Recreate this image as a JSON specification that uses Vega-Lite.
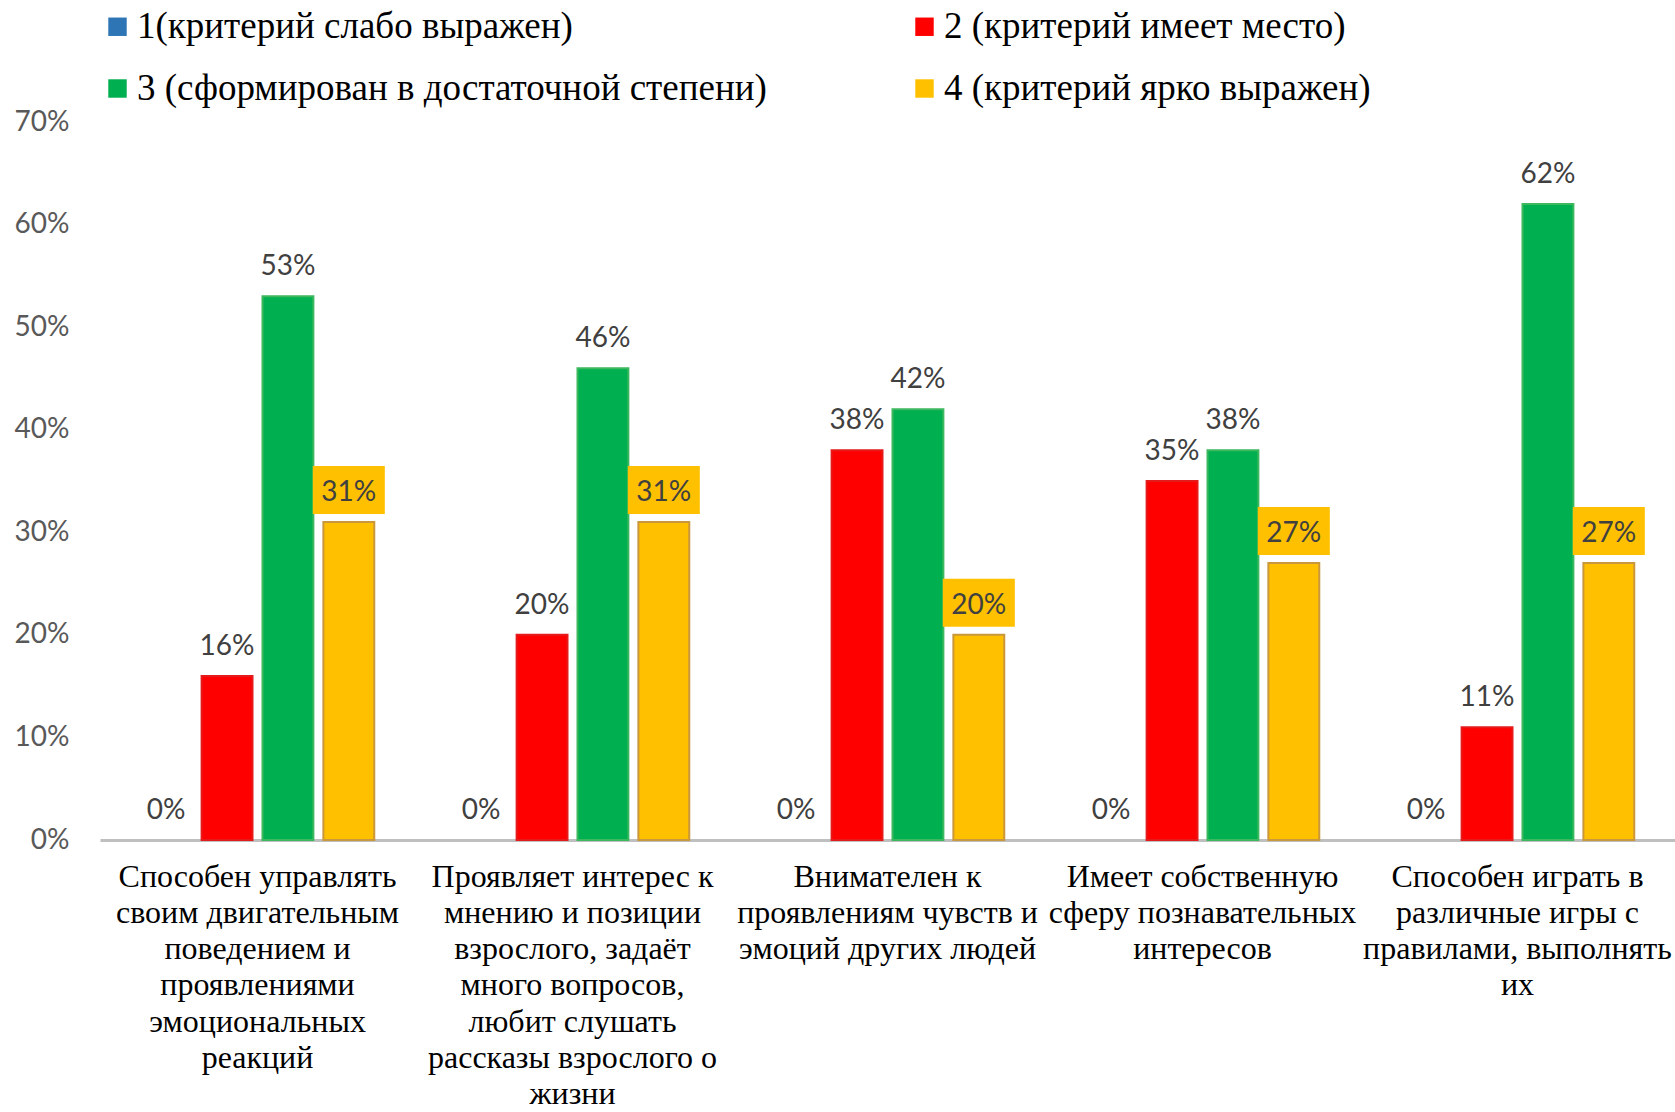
{
  "$schema": "https://vega.github.io/schema/vega-lite/v6.json",
  "width": 1575,
  "height": 718,
  "autosize": {"type": "none"},
  "padding": {"left": 100, "top": 122, "right": 0, "bottom": 272},
  "background": "white",
  "config": {"view": {"stroke": null}},
  "data": {
    "values": [
      {"c": "Способен управлять\nсвоим двигательным\nповедением и\nпроявлениями\nэмоциональных\nреакций", "s": "1(критерий слабо выражен)", "v": 0},
      {"c": "Способен управлять\nсвоим двигательным\nповедением и\nпроявлениями\nэмоциональных\nреакций", "s": "2 (критерий имеет место)", "v": 0.16},
      {"c": "Способен управлять\nсвоим двигательным\nповедением и\nпроявлениями\nэмоциональных\nреакций", "s": "3 (сформирован в достаточной степени)", "v": 0.53},
      {"c": "Способен управлять\nсвоим двигательным\nповедением и\nпроявлениями\nэмоциональных\nреакций", "s": "4 (критерий ярко выражен)", "v": 0.31},
      {"c": "Проявляет интерес к\nмнению и позиции\nвзрослого, задаёт\nмного вопросов,\nлюбит слушать\nрассказы взрослого о\nжизни", "s": "1(критерий слабо выражен)", "v": 0},
      {"c": "Проявляет интерес к\nмнению и позиции\nвзрослого, задаёт\nмного вопросов,\nлюбит слушать\nрассказы взрослого о\nжизни", "s": "2 (критерий имеет место)", "v": 0.20},
      {"c": "Проявляет интерес к\nмнению и позиции\nвзрослого, задаёт\nмного вопросов,\nлюбит слушать\nрассказы взрослого о\nжизни", "s": "3 (сформирован в достаточной степени)", "v": 0.46},
      {"c": "Проявляет интерес к\nмнению и позиции\nвзрослого, задаёт\nмного вопросов,\nлюбит слушать\nрассказы взрослого о\nжизни", "s": "4 (критерий ярко выражен)", "v": 0.31},
      {"c": "Внимателен к\nпроявлениям чувств и\nэмоций других людей", "s": "1(критерий слабо выражен)", "v": 0},
      {"c": "Внимателен к\nпроявлениям чувств и\nэмоций других людей", "s": "2 (критерий имеет место)", "v": 0.38},
      {"c": "Внимателен к\nпроявлениям чувств и\nэмоций других людей", "s": "3 (сформирован в достаточной степени)", "v": 0.42},
      {"c": "Внимателен к\nпроявлениям чувств и\nэмоций других людей", "s": "4 (критерий ярко выражен)", "v": 0.20},
      {"c": "Имеет собственную\nсферу познавательных\nинтересов", "s": "1(критерий слабо выражен)", "v": 0},
      {"c": "Имеет собственную\nсферу познавательных\nинтересов", "s": "2 (критерий имеет место)", "v": 0.35},
      {"c": "Имеет собственную\nсферу познавательных\nинтересов", "s": "3 (сформирован в достаточной степени)", "v": 0.38},
      {"c": "Имеет собственную\nсферу познавательных\nинтересов", "s": "4 (критерий ярко выражен)", "v": 0.27},
      {"c": "Способен играть в\nразличные игры с\nправилами, выполнять\nих", "s": "1(критерий слабо выражен)", "v": 0},
      {"c": "Способен играть в\nразличные игры с\nправилами, выполнять\nих", "s": "2 (критерий имеет место)", "v": 0.11},
      {"c": "Способен играть в\nразличные игры с\nправилами, выполнять\nих", "s": "3 (сформирован в достаточной степени)", "v": 0.62},
      {"c": "Способен играть в\nразличные игры с\nправилами, выполнять\nих", "s": "4 (критерий ярко выражен)", "v": 0.27}
    ]
  },
  "encoding": {
    "x": {
      "field": "c", "type": "nominal", "sort": null,
      "scale": {"paddingInner": 0, "paddingOuter": 0},
      "axis": {
        "title": null, "labelAngle": 0, "ticks": false,
        "domainColor": "#BFBFBF", "domainWidth": 3,
        "labelExpr": "split(datum.value, '\\n')",
        "labelFont": "Liberation Serif", "labelFontSize": 32, "labelColor": "#000000",
        "labelLineHeight": 36.3, "labelPadding": 21, "labelLimit": 0, "labelBaseline": "top"
      }
    },
    "xOffset": {
      "field": "s", "type": "nominal",
      "scale": {"paddingInner": 0.164, "paddingOuter": 0.669}
    },
    "y": {
      "field": "v", "type": "quantitative",
      "scale": {"domain": [0, 0.7], "nice": false},
      "axis": {
        "title": null, "values": [0, 0.1, 0.2, 0.3, 0.4, 0.5, 0.6, 0.7], "format": ".0%",
        "domain": false, "ticks": false, "grid": false,
        "labelFont": "Lato", "labelFontSize": 28, "labelColor": "#595959", "labelPadding": 31
      }
    }
  },
  "layer": [
    {
      "mark": {"type": "bar", "strokeWidth": 2},
      "encoding": {
        "color": {
          "field": "s", "type": "nominal",
          "scale": {
            "domain": ["1(критерий слабо выражен)", "2 (критерий имеет место)", "3 (сформирован в достаточной степени)", "4 (критерий ярко выражен)"],
            "range": ["#2E75B6", "#FF0000", "#00B050", "#FFC000"]
          },
          "legend": {
            "title": null, "orient": "none", "legendX": -1, "legendY": -114,
            "direction": "horizontal", "columns": 2, "columnPadding": 139, "rowPadding": 24,
            "symbolType": "square", "symbolSize": 340, "symbolStrokeWidth": 0,
            "labelFont": "Liberation Serif", "labelFontSize": 37, "labelColor": "#000000",
            "labelOffset": 1, "labelLimit": 0,
            "encode": {
              "symbols": {
                "update": {
                  "fill": {"signal": "datum.value[0] == '1' ? '#2E75B6' : datum.value[0] == '2' ? '#E42222' : datum.value[0] == '3' ? '#4CB050' : '#C9A24A'"}
                }
              }
            }
          }
        },
        "stroke": {
          "field": "s", "type": "nominal",
          "scale": {
            "domain": ["1(критерий слабо выражен)", "2 (критерий имеет место)", "3 (сформирован в достаточной степени)", "4 (критерий ярко выражен)"],
            "range": ["transparent", "#E51A1A", "#3DB85E", "#C9973C"]
          },
          "legend": null
        }
      }
    },
    {
      "transform": [{"filter": "datum.s == '4 (критерий ярко выражен)'"}],
      "mark": {
        "type": "point", "filled": true, "opacity": 1, "color": "#FFC000", "size": 5184,
        "shape": "M-1,-1.556L1,-1.556L1,-0.222L-1,-0.222Z"
      }
    },
    {
      "mark": {"type": "text", "dy": -29, "baseline": "middle", "align": "center", "font": "Lato", "fontSize": 28, "color": "#404040"},
      "encoding": {
        "text": {"field": "v", "type": "quantitative", "format": ".0%"}
      }
    }
  ]
}
